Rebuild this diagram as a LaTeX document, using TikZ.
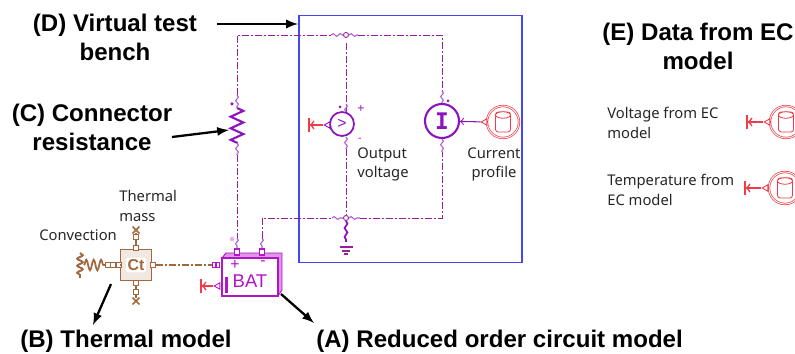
\documentclass[tikz,border=0pt]{standalone}
\usepackage{fontspec}
\setmainfont{Liberation Sans}
\newfontfamily\smallfont{Noto Sans}
\newfontfamily\symfont{DejaVu Sans Mono}
\usetikzlibrary{shapes.geometric,shapes.misc,decorations.pathmorphing}
\definecolor{wirepurple}{HTML}{96209A}
\definecolor{batpurple}{HTML}{B414C8}
\definecolor{volpurple}{HTML}{8C14BE}
\definecolor{thermbrown}{HTML}{A0683C}
\definecolor{sensred}{HTML}{F03C46}
\definecolor{boxblue}{HTML}{4646F0}
\tikzset{
  title/.style={font=\bfseries\fontsize{13.7}{16.4}\selectfont, align=center, inner sep=0pt},
  note/.style={font=\smallfont\fontsize{8.4}{11.3}\selectfont, text=black!85, align=left, inner sep=0pt},
  pointer/.style={-latex, line width=1.3pt, black},
  wire/.style={wirepurple, line width=0.55pt, dash pattern=on 4pt off 1.2pt on 1pt off 1.2pt},
  thermwire/.style={thermbrown, line width=0.6pt, dash pattern=on 4pt off 1.2pt on 1pt off 1.2pt},
  wiggle/.style={volpurple!70, line width=0.6pt, decorate, decoration={snake, amplitude=0.8pt, segment length=4pt}},
  jct/.style={circle, draw=wirepurple, fill=white, line width=0.5pt, minimum size=0.1cm, inner sep=0pt},
  port/.style={rectangle, draw=thermbrown, fill=white, line width=0.6pt, minimum size=0.09cm, inner sep=0pt},
  batport/.style={rectangle, draw=batpurple, fill=white, line width=0.7pt, minimum width=0.09cm, minimum height=0.12cm, inner sep=0pt},
  sensor/.style={circle, draw=sensred, double=white, double distance=0.5pt, line width=0.4pt, minimum size=0.64cm, inner sep=0pt},
  drum/.style={rectangle, rounded corners=1.5pt, draw=sensred, line width=0.45pt, minimum width=0.3cm, minimum height=0.4cm, inner sep=0pt},
  drumtop/.style={ellipse, draw=sensred, fill=white, line width=0.45pt, minimum width=0.3cm, minimum height=0.13cm, inner sep=0pt},
  tapin/.style={regular polygon, regular polygon sides=3, shape border rotate=90, draw=sensred, fill=white, line width=0.5pt, minimum size=0.15cm, inner sep=0pt},
  outlet/.style={|<-, sensred, line width=0.9pt},
  crossmark/.style={cross out, draw=thermbrown, line width=1pt, minimum size=0.1cm, inner sep=0pt}
}
\begin{document}
\begin{tikzpicture}[x=0.02cm, y=-0.02cm]
\useasboundingbox (0,0) rectangle (795,354);
\clip (0,0) rectangle (795,354);
% titles
\node[title] (Dtxt) at (115,37.5) {(D) Virtual test\\bench};
\node[title] (Ctxt) at (92,127) {(C) Connector\\resistance};
\node[title] (Etxt) at (698,46) {(E) Data from EC\\model};
\node[title, anchor=west] (Btxt) at (20,341) {(B) Thermal model};
\node[title, anchor=west] (Atxt) at (316,341) {(A) Reduced order circuit model};
% test bench
\node[draw=boxblue, line width=0.8pt, minimum width=4.46cm, minimum height=4.94cm, inner sep=0pt] (bench) at (410.5,139) {};
\node[circle, draw=volpurple, line width=1pt, minimum size=0.48cm, inner sep=0pt, text=volpurple, font=\fontsize{9}{9}\selectfont] (V) at (342,124) {>};
\node[circle, draw=volpurple, line width=1.2pt, minimum size=0.68cm, inner sep=0pt, text=volpurple, font=\symfont\bfseries\fontsize{13}{13}\selectfont] (I) at (442,121) {I};
\node[sensor] (S1) at (503,122) {};
\node[drum] (D1) at (503,122) {};
\node[drumtop] (C1) at (503,115) {};
\node[tapin] (T1) at (485,122) {};
% resistor
\coordinate (Rtop) at (237,108);
\coordinate (Rbot) at (237,143);
\coordinate (Rw1) at (237,95);
\coordinate (Rw2) at (237,155);
\draw[volpurple, line width=1.2pt, decorate, decoration={zigzag, amplitude=3.6pt, segment length=6.6pt}] (Rtop) -- (Rbot);
\draw[wiggle] (Rw1) -- (Rtop);
\draw[wiggle] (Rbot) -- (Rw2);
\node[circle, fill=volpurple, minimum size=0.07cm, inner sep=0pt] (Rdot) at (232,104) {};
% battery
\draw[batpurple, fill=batpurple!45, line width=0.5pt] (222,258) -- (226,253) -- (282,253) -- (282,290) -- (278,296) -- cycle;
\node[draw=batpurple, fill=white, line width=1.3pt, minimum width=1.12cm, minimum height=0.76cm, inner sep=0pt] (bat) at (250,277) {};
\node[text=batpurple, font=\fontsize{10.5}{10.5}\selectfont, inner sep=0pt] (batname) at (250,281) {BAT};
\node[text=batpurple, font=\fontsize{9}{9}\selectfont, inner sep=0pt] (batplus) at (235,265) {+};
\node[text=batpurple, font=\fontsize{9}{9}\selectfont, inner sep=0pt] (batminus) at (263,263) {-};
\node[batport] (Bplus) at (237,252) {};
\node[batport] (Bminus) at (262,252) {};
\node[fill=batpurple, minimum width=0.06cm, minimum height=0.32cm, inner sep=0pt] (gauge) at (226.5,285) {};
\node[batport, minimum width=0.07cm, minimum height=0.09cm] (Bp1) at (214,265) {};
\node[batport, minimum width=0.07cm, minimum height=0.09cm] (Bp2) at (218,265) {};
\node[tapin, draw=batpurple] (T4) at (218,286) {};
\coordinate (Bw1) at (237,238);
\coordinate (Bw2) at (262,238);
\node[circle, fill=batpurple!35, minimum size=0.09cm, inner sep=0pt] (Bdot) at (232,239) {};
% thermal
\node[draw=thermbrown, fill=thermbrown!15, line width=0.9pt, minimum size=0.62cm, inner sep=0pt] (Ct) at (136,265) {};
\node[fill=white, rounded corners=1pt, text=thermbrown, font=\bfseries\fontsize{9}{9}\selectfont, inner sep=1pt] (Ctname) at (136,265) {Ct};
\node[port] (Pl) at (119,265) {};
\node[port] (Pl1) at (113,265) {};
\node[port] (Pl2) at (108,265) {};
\node[port] (Pr) at (153,265) {};
\node[port] (Pt) at (136,248) {};
\node[port] (Pt1) at (136,237) {};
\node[port] (Pb) at (136,283) {};
\node[port] (Pb1) at (136,292) {};
\node[crossmark] (Xt) at (136,230) {};
\node[crossmark] (Xb) at (136,301) {};
\coordinate (Hup) at (80,253);
\coordinate (Hdn) at (80,278);
\coordinate (Coil) at (84,265);
\draw[thermbrown, line width=1.1pt, decorate, decoration={snake, amplitude=1.6pt, segment length=4pt}] (Hup) -- (Hdn);
\draw[thermbrown, line width=1pt, decorate, decoration={snake, amplitude=3pt, segment length=4.2pt}] (Coil) -- (Pl2);
\draw[thermbrown, line width=0.6pt] (Pl) -- (Ct) (Pt) -- (Pt1) (Pt1) -- (Xt) (Pb) -- (Pb1) (Pb1) -- (Xb);
% sensors of the EC model
\node[sensor] (S2) at (786,122) {};
\node[drum] (D2) at (786,122) {};
\node[drumtop] (C2) at (786,115) {};
\node[tapin] (T2) at (768,122) {};
\node[sensor] (S3) at (785,188) {};
\node[drum] (D3) at (785,188) {};
\node[drumtop] (C3) at (785,181) {};
\node[tapin] (T3) at (766,188) {};
\coordinate (K1) at (746,122);
\coordinate (K2) at (744,188);
\coordinate (K3) at (200,286);
\coordinate (K4) at (308,125);
\node[tapin, draw=volpurple] (T5) at (328,125) {};
% wires
\coordinate (Vup) at (346,112);
\coordinate (Vdn) at (346,137);
\coordinate (Iup) at (442,91);
\coordinate (Idn) at (442,152);
\coordinate (Jtl) at (331,35);
\coordinate (Jtr) at (358,35);
\coordinate (Jbl) at (332,218);
\coordinate (Jbr) at (360,218);
\node[jct] (Jtop) at (346,35) {};
\node[jct] (Jbot) at (346,218) {};
\draw[wire] (Rw1) |- (Jtl);
\draw[wire] (Jtr) -| (Iup);
\draw[wire] (Jtop) ++(0,8) -- (Vup);
\draw[wire] (Vdn) ++(0,12) -- (Jbot);
\draw[wiggle] (Jtl) -- (Jtop);
\draw[wiggle] (Jtop) -- (Jtr);
\draw[wiggle] (Vup) ++(0,-8) -- (Vup);
\draw[wiggle] (Vdn) -- ++(0,12);
\draw[wiggle] (Iup) -- (I);
\draw[wiggle] (I) -- (Idn);
\draw[wire] (Rw2) -- (Bw1);
\draw[wiggle] (Bw1) -- (Bplus);
\draw[wiggle] (Bw2) -- (Bminus);
\coordinate (Bturn) at (262,218);
\draw[wire] (Bw2) -- (Bturn) -- (Jbl);
\draw[wiggle] (Jbl) -- (Jbot);
\draw[wiggle] (Jbot) -- (Jbr);
\draw[wire] (Jbr) -| (Idn);
\draw[thermwire] (Pr) -- (Bp1);
\draw[volpurple, line width=0.6pt, <-] (I) -- (T1);
\draw[sensred, line width=0.7pt] (T1) -- (S1);
\draw[outlet] (K1) -- (T2);
\draw[sensred, line width=0.7pt] (T2) -- (S2);
\draw[outlet] (K2) -- (T3);
\draw[sensred, line width=0.7pt] (T3) -- (S3);
\draw[outlet] (K3) -- (T4);
\draw[outlet] (K4) -- (T5);
\draw[volpurple, line width=0.6pt] (T5) -- (V);
% ground
\coordinate (G0) at (346,242);
\coordinate (G1a) at (339.5,247);
\coordinate (G1b) at (352.5,247);
\coordinate (G2a) at (342,251);
\coordinate (G2b) at (350,251);
\coordinate (G3a) at (344,254);
\coordinate (G3b) at (348,254);
\draw[volpurple, line width=1pt, decorate, decoration={snake, amplitude=0.8pt, segment length=5pt}] (Jbot) -- (G0);
\draw[wirepurple, line width=0.6pt] (G1a) -- (G1b) (G2a) -- (G2b) (G3a) -- (G3b);
% notes
\node[note, anchor=west] (massnote) at (119,206) {Thermal\\mass};
\node[note, anchor=west] (convnote) at (39,235) {Convection};
\node[note, anchor=north west] (outnote) at (357,147) {Output\\voltage};
\node[note, align=center, anchor=north] (curnote) at (494,147) {Current\\profile};
\node[note, anchor=north west] (volnote) at (607,107) {Voltage from EC\\model};
\node[note, anchor=north west] (tempnote) at (607,174) {Temperature from\\EC model};
\node[text=volpurple, font=\fontsize{7}{7}\selectfont, inner sep=0pt] (Vplus) at (361,109) {+};
\node[text=volpurple, font=\fontsize{6}{6}\selectfont, inner sep=0pt] (Vminus) at (360,140) {-};
\node[circle, fill=volpurple, minimum size=0.06cm, inner sep=0pt] (Vdot) at (340,107) {};
\node[circle, fill=volpurple, minimum size=0.06cm, inner sep=0pt] (Idot) at (448,101) {};
% pointers
\coordinate (Dend) at (298,24);
\coordinate (Dbeg) at (217,24);
\coordinate (Cbeg) at (172,137);
\coordinate (Cend) at (229,130);
\coordinate (Bbeg) at (111,284);
\coordinate (Bend) at (93,325);
\coordinate (Abeg) at (281,294);
\coordinate (Aend) at (314,323);
\draw[pointer] (Dbeg) -- (Dend);
\draw[pointer] (Cbeg) -- (Cend);
\draw[pointer] (Bbeg) -- (Bend);
\draw[pointer] (Abeg) -- (Aend);
\end{tikzpicture}
\end{document}
